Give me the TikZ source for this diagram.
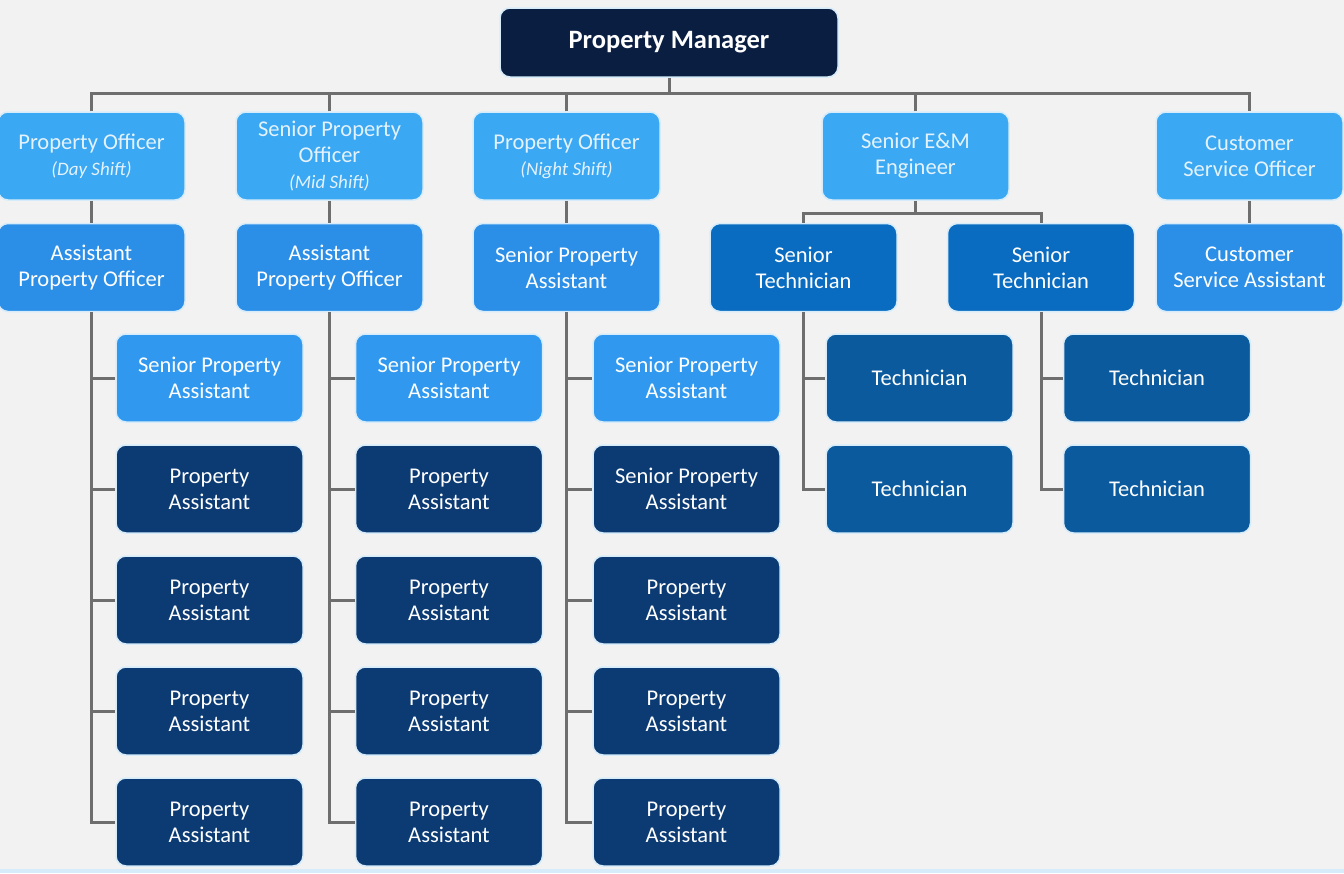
\documentclass[tikz,border=0pt]{standalone}
\usepackage{fontspec}
\setmainfont{Carlito}
\definecolor{bg}{HTML}{F2F2F2}
\definecolor{cmgr}{HTML}{0A1E42}
\definecolor{clight}{HTML}{3AA8F2}
\definecolor{cmid}{HTML}{2B8FE8}
\definecolor{cspa}{HTML}{3099EF}
\definecolor{cst}{HTML}{0A6CC0}
\definecolor{cdark}{HTML}{0C3B74}
\definecolor{ctech}{HTML}{0B5A9E}
\definecolor{halo}{HTML}{D6ECFA}
\definecolor{cline}{HTML}{6E6E6E}
\definecolor{ltext}{HTML}{E4F2FD}
\tikzset{
  box/.style={rounded corners=10pt, minimum width=187pt, minimum height=88pt,
    align=center, inner sep=0pt, draw=halo, line width=1.5pt, text=white,
    font=\fontsize{22.5}{26}\selectfont},
  lightbox/.style={box, fill=clight, text=ltext},
  midbox/.style={box, fill=cmid},
  spabox/.style={box, fill=cspa},
  stbox/.style={box, fill=cst},
  darkbox/.style={box, fill=cdark},
  techbox/.style={box, fill=ctech},
  conn/.style={draw=cline, line width=3pt},
}
\newcommand{\shiftnote}[1]{{\fontsize{19}{26}\selectfont\itshape #1}}
\begin{document}
\begin{tikzpicture}[x=1pt,y=-1pt]
\fill[bg] (0,0) rectangle (1344,873);
\fill[halo] (0,869) rectangle (1344,873);
\useasboundingbox (0,0) rectangle (1344,873);

% manager
\node[box, fill=cmgr, minimum width=338pt, minimum height=69pt,
  font=\fontsize{26.5}{30}\selectfont\bfseries] (mgr) at (669,42.5) {Property Manager};

% row 1
\node[lightbox] (pod) at (91.5,156) {Property Officer\\\shiftnote{(Day Shift)}};
\node[lightbox] (spo) at (329.5,156) {Senior Property\\Officer\\\shiftnote{(Mid Shift)}};
\node[lightbox] (pon) at (566.5,156) {Property Officer\\\shiftnote{(Night Shift)}};
\node[lightbox] (em) at (915.5,156) {Senior E\&M\\Engineer};
\node[lightbox] (cso) at (1249.5,156) {Customer\\Service Officer};

% row 2
\node[midbox] (apo1) at (91.5,267.5) {Assistant\\Property Officer};
\node[midbox] (apo2) at (329.5,267.5) {Assistant\\Property Officer};
\node[midbox] (spa3) at (566.5,267.5) {Senior Property\\Assistant};
\node[stbox] (st1) at (803.5,267.5) {Senior\\Technician};
\node[stbox] (st2) at (1041,267.5) {Senior\\Technician};
\node[midbox] (csa) at (1249.5,267.5) {Customer\\Service Assistant};

% column 1
\node[spabox] (a1) at (209.5,378) {Senior Property\\Assistant};
\node[darkbox] (a2) at (209.5,489) {Property\\Assistant};
\node[darkbox] (a3) at (209.5,600) {Property\\Assistant};
\node[darkbox] (a4) at (209.5,711) {Property\\Assistant};
\node[darkbox] (a5) at (209.5,822) {Property\\Assistant};
% column 2
\node[spabox] (b1) at (449,378) {Senior Property\\Assistant};
\node[darkbox] (b2) at (449,489) {Property\\Assistant};
\node[darkbox] (b3) at (449,600) {Property\\Assistant};
\node[darkbox] (b4) at (449,711) {Property\\Assistant};
\node[darkbox] (b5) at (449,822) {Property\\Assistant};
% column 3
\node[spabox] (c1) at (686.5,378) {Senior Property\\Assistant};
\node[darkbox] (c2) at (686.5,489) {Senior Property\\Assistant};
\node[darkbox] (c3) at (686.5,600) {Property\\Assistant};
\node[darkbox] (c4) at (686.5,711) {Property\\Assistant};
\node[darkbox] (c5) at (686.5,822) {Property\\Assistant};
% technicians
\node[techbox] (t1) at (919.5,378) {Technician};
\node[techbox] (t2) at (919.5,489) {Technician};
\node[techbox] (u1) at (1157,378) {Technician};
\node[techbox] (u2) at (1157,489) {Technician};

% connectors
\coordinate (bus) at (0,93);
\coordinate (bus2) at (0,213);
\draw[conn] (pod.north) -- (pod.north |- bus) -- (cso.north |- bus) -- (cso.north);
\draw[conn] (mgr.south) -- (mgr.south |- bus);
\draw[conn] (spo.north) -- (spo.north |- bus);
\draw[conn] (pon.north) -- (pon.north |- bus);
\draw[conn] (em.north) -- (em.north |- bus);

\draw[conn] (pod.south) -- (apo1.north);
\draw[conn] (spo.south) -- (apo2.north);
\draw[conn] (pon.south) -- (spa3.north);
\draw[conn] (cso.south) -- (csa.north);

\draw[conn] (em.south) -- (em.south |- bus2);
\draw[conn] (st1.north) -- (st1.north |- bus2) -- (st2.north |- bus2) -- (st2.north);

\draw[conn] (apo1.south) |- (a5.west);
\foreach \n in {a1,a2,a3,a4} \draw[conn] (apo1.south |- \n.west) -- (\n.west);
\draw[conn] (apo2.south) |- (b5.west);
\foreach \n in {b1,b2,b3,b4} \draw[conn] (apo2.south |- \n.west) -- (\n.west);
\draw[conn] (spa3.south) |- (c5.west);
\foreach \n in {c1,c2,c3,c4} \draw[conn] (spa3.south |- \n.west) -- (\n.west);
\draw[conn] (st1.south) |- (t2.west);
\draw[conn] (st1.south |- t1.west) -- (t1.west);
\draw[conn] (st2.south) |- (u2.west);
\draw[conn] (st2.south |- u1.west) -- (u1.west);
\end{tikzpicture}
\end{document}
